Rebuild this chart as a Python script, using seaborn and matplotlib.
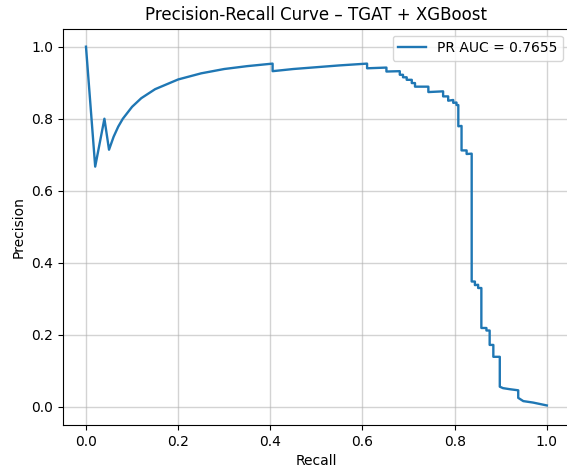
import matplotlib
matplotlib.use("Agg")
import matplotlib.pyplot as plt
import seaborn as sns
import pandas as pd

# values
recall = [0.0, 0.02, 0.04, 0.05, 0.06, 0.07, 0.08, 0.10, 0.12, 0.15, 0.20, 0.25,
          0.30, 0.35, 0.405, 0.405, 0.45, 0.50, 0.55, 0.61,
          0.61, 0.652, 0.652, 0.681, 0.681, 0.688, 0.688, 0.696, 0.696, 0.707,
          0.707, 0.714, 0.714, 0.743, 0.743, 0.775, 0.775, 0.786, 0.786, 0.797,
          0.797, 0.804, 0.804, 0.808, 0.808, 0.815, 0.815, 0.826, 0.826, 0.837,
          0.837, 0.844, 0.844, 0.851, 0.851, 0.858, 0.858, 0.869, 0.869, 0.876,
          0.876, 0.884, 0.884, 0.898, 0.898, 0.905, 0.920, 0.938, 0.938, 0.949,
          0.970, 1.0]
precision = [1.0, 0.667, 0.80, 0.714, 0.75, 0.778, 0.80, 0.833, 0.857, 0.882, 0.909, 0.926,
             0.938, 0.946, 0.953, 0.932, 0.938, 0.943, 0.948, 0.953,
             0.940, 0.942, 0.931, 0.932, 0.922, 0.922, 0.915, 0.915, 0.908, 0.908,
             0.899, 0.899, 0.889, 0.889, 0.874, 0.876, 0.862, 0.862, 0.850, 0.852,
             0.844, 0.845, 0.838, 0.838, 0.779, 0.780, 0.712, 0.712, 0.702, 0.703,
             0.348, 0.348, 0.338, 0.339, 0.330, 0.330, 0.219, 0.219, 0.212, 0.212,
             0.172, 0.172, 0.139, 0.139, 0.056, 0.052, 0.049, 0.046, 0.025, 0.016,
             0.012, 0.004]
pr_auc = 0.7655

df = pd.DataFrame({"recall": recall, "precision": precision})

fig = plt.figure(figsize=(5.67, 4.70), dpi=100)
ax = fig.add_axes([0.111, 0.096, 0.894, 0.843])
sns.lineplot(data=df, x="recall", y="precision", sort=False, estimator=None,
             color="#1f77b4", linewidth=1.7, label=f"PR AUC = {pr_auc:.4f}", ax=ax)
ax.set_xlim(-0.05, 1.05)
ax.set_ylim(-0.05, 1.05)
ax.set_xlabel("Recall")
ax.set_ylabel("Precision")
ax.set_title("Precision-Recall Curve \u2013 TGAT + XGBoost")
ax.grid(True, color="#b0b0b0", alpha=0.55, linewidth=1.0)
ax.legend(loc="upper right")
fig.savefig("out.png", dpi=100)
